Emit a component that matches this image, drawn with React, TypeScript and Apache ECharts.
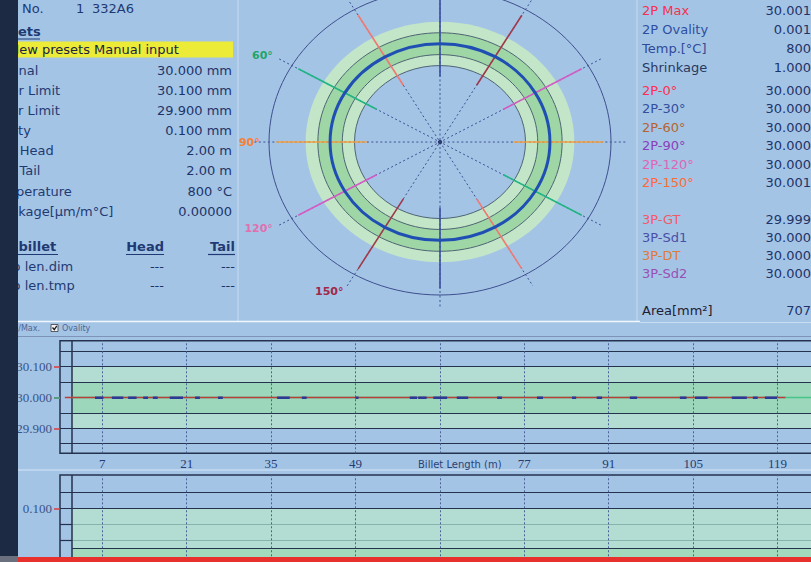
import React, { useEffect, useRef } from 'react';
import * as echarts from 'echarts';

const W = 811;
const H = 562;

// ---------------- data ----------------
const billetNoLabel = 'Billet No.';
const billetIndex = '1';
const billetCode = '332A6';
const presetTitle = 'Presets';
const presetMode = 'New presets Manual input';
const presetNames = ['Nominal', 'Upper Limit', 'Lower Limit', 'Ovality', 'Crop Head', 'Crop Tail', 'Temperature', 'Shrinkage[µm/m°C]'];
const presetValues = ['30.000 mm', '30.100 mm', '29.900 mm', '0.100 mm', '2.00 m', '2.00 m', '800 °C', '0.00000'];
const cropTitle = 'Last billet';
const cropCols = ['Head', 'Tail'];
const cropNames = ['Crop len.dim', 'Crop len.tmp'];
const cropHead = ['---', '---'];
const cropTail = ['---', '---'];

const summaryNames = ['2P Max', '2P Ovality', 'Temp.[°C]', 'Shrinkage'];
const summaryValues = ['30.001', '0.001', '800', '1.000'];
const names2P = ['2P-0°', '2P-30°', '2P-60°', '2P-90°', '2P-120°', '2P-150°'];
const diameters2P = [30.0, 30.0, 30.0, 30.0, 30.0, 30.001];
const names3P = ['3P-GT', '3P-Sd1', '3P-DT', '3P-Sd2'];
const diameters3P = [29.999, 30.0, 30.0, 30.0];
const areaLabel = 'Area[mm²]';
const areaValue = 707;

const nominalDia = 30.0;
const upperLimit = 30.1;
const lowerLimit = 29.9;
const innerUpper = 30.05;
const innerLower = 29.95;
const ovalityLimit = 0.1;
const ovalityInner = 0.05;
const cropHeadM = 2.0;

const anglesDeg = [0, 30, 60, 90, 120, 150];
const angleNames = ['0°', '30°', '60°', '90°', '120°', '150°'];
const polarOrigin = 29.55;
const polarOuter = 30.25;
const radialEnd = 30.31;
const segmentFrom = 29.85;
const segmentTo = 30.22;
const ringLevels = [polarOuter, upperLimit, innerUpper, innerLower, lowerLimit];

const lengthMax = 126;
const lengthGridMarks = [7, 21, 35, 49, 63, 77, 91, 105, 119];
const lengthTickLabels = [7, 21, 35, 49, 77, 91, 105, 119];
const lengthAxisName = 'Billet Length (m)';
const diaGridLines = [30.15, 30.1, 30.05, 29.95, 29.9, 29.85];
const diaTickLabels = [29.9, 30.0, 30.1];
const ovalityGridDark = [0.12, 0.1];
const ovalityGridLight = [0.08, 0.06];
const ovalityTickLabels = [0.1];

const measuredPos = [0.8, 10, 20, 30, 40, 50, 60, 70, 80, 90, 100, 110, 120.3];
const measuredMax = [30.0, 30.0, 30.0, 30.0, 30.0, 30.0, 30.0, 30.0, 30.0, 30.0, 30.0, 30.0, 30.0];
const measuredOvality = [0.001, 0.001, 0.001, 0.001, 0.001, 0.001, 0.001, 0.001, 0.001, 0.001, 0.001, 0.001, 0.001];
const dipStart = [5.8, 8.6, 11.3, 13.8, 15.4, 18.2, 22.4, 26.2, 36.0, 40.1, 49.0, 58.0, 59.4, 61.9, 65.8, 72.5, 79.1, 84.9, 89.0, 94.5, 102.8, 105.3, 111.4, 114.9, 116.9];
const dipEnd = [7.2, 10.5, 12.7, 14.6, 16.2, 20.4, 23.2, 27.0, 38.1, 40.9, 49.5, 59.2, 60.8, 64.2, 67.7, 73.3, 80.1, 85.6, 89.9, 95.7, 103.9, 107.4, 113.9, 115.7, 118.9];
const dipValue = 29.999;

// ---------------- styles / layout ----------------
const BG = '#a4c4e6';
const NAVY = '#1f3a72';
const VAL = '#1e3468';
const SANS = '"DejaVu Sans", Verdana, sans-serif';
const SERIF = '"Liberation Serif", "DejaVu Serif", serif';
const FRAME = '#25324d';
const summaryColors = ['#f2334f', '#2e4fa0', '#2e4a98', '#28385e'];
const colors2P = ['#ff2f4f', '#33509e', '#b5642f', '#8a3fb8', '#e065b5', '#ff6a3a'];
const colors3P = ['#f25a6a', '#4a4fa6', '#e07a38', '#9a4fb5'];
const segColors = ['#3a4fa0', '#f07a72', '#1fb584', '#f5a040', '#d35cc4', '#a03a4a'];
const angleLabelColors = ['#3a4fa0', '#f07a72', '#1fa56a', '#f5803a', '#e070b0', '#a0284a'];
const angleLabelRadius = [0.79, 0.79, 0.79, 0.738, 0.79, 0.79];
const ringFill = ['none', '#c3e5c8', '#9fd6a6', '#c3e5c8', BG];
const ringStroke = ['#3e4f8e', 'none', '#4e6474', '#4e6474', '#4e6474'];
const presetNameX = [-15.5, -15.5, -15.5, -15, -14.8, -15, -10.5, -15.5];
const presetRowY = [70, 90, 110, 130, 150.5, 170.7, 191, 211];
const summaryRowY = [10, 29, 48, 67];
const rowY2P = [90, 108.5, 127, 145.7, 164.2, 182.7];
const rowY3P = [219.3, 237.3, 255.3, 273.3];

function txt(x: number, y: number, text: string, o: any = {}) {
  return {
    type: 'text',
    x,
    y,
    z: o.z ?? 5,
    silent: true,
    style: {
      text,
      fill: o.fill ?? NAVY,
      fontSize: o.size ?? 13,
      fontFamily: o.family ?? SANS,
      fontWeight: o.weight ?? 'normal',
      textAlign: o.align ?? 'left',
      textVerticalAlign: 'middle',
    },
  };
}
function hline(x1: number, x2: number, y: number, stroke: string, w = 1, z = 4) {
  return { type: 'line', z, silent: true, shape: { x1, y1: y, x2, y2: y }, style: { stroke, lineWidth: w } };
}
function vline(x: number, y1: number, y2: number, stroke: string, w = 1, z = 4) {
  return { type: 'line', z, silent: true, shape: { x1: x, y1, x2: x, y2 }, style: { stroke, lineWidth: w } };
}

function buildGraphics() {
  const g: any[] = [];
  g.push({ type: 'rect', z: 100, silent: true, shape: { x: 0, y: 0, width: 18, height: 556 }, style: { fill: '#1c2b43' } });
  g.push({ type: 'rect', z: 100, silent: true, shape: { x: 0, y: 556, width: 18, height: 6 }, style: { fill: '#6a707e' } });
  g.push({ type: 'rect', z: 100, silent: true, shape: { x: 18, y: 557, width: 793, height: 5 }, style: { fill: '#e8302c' } });
  g.push({ type: 'rect', z: 1, silent: true, shape: { x: 18, y: 41.5, width: 215, height: 16 }, style: { fill: '#ecec38' } });
  g.push(vline(238, 0, 321, '#c8dcf2', 1));
  g.push(vline(637, 0, 322, '#c8dcf2', 1));
  g.push(hline(18, 640, 321.5, '#f0f6fc', 1.5));
  g.push(hline(640, 811, 322.5, '#c8dcf2', 1));
  g.push(hline(18, 811, 336.5, '#7d94b8', 1));
  g.push(hline(18, 811, 470, '#d5e5f5', 1));

  // left panel
  g.push(txt(-15, 8, billetNoLabel));
  g.push(txt(76, 8, billetIndex));
  g.push(txt(92, 8, billetCode));
  g.push(txt(-14.5, 31, presetTitle, { weight: 'bold' }));
  g.push(hline(-14.5, 40, 39, NAVY, 1.2, 5));
  g.push(txt(9.5, 49.5, presetMode, { fill: '#1a2440' }));
  presetNames.forEach((n, i) => {
    g.push(txt(presetNameX[i], presetRowY[i], n));
    g.push(txt(232, presetRowY[i], presetValues[i], { fill: VAL, align: 'right' }));
  });
  g.push(txt(-17, 246.5, cropTitle, { weight: 'bold' }));
  g.push(hline(-17, 58, 254.5, NAVY, 1.2, 5));
  g.push(txt(164, 246.5, cropCols[0], { weight: 'bold', align: 'right' }));
  g.push(hline(126, 164, 254.5, NAVY, 1.2, 5));
  g.push(txt(235, 246.5, cropCols[1], { weight: 'bold', align: 'right' }));
  g.push(hline(208, 235, 254.5, NAVY, 1.2, 5));
  cropNames.forEach((n, i) => {
    const y = 266 + i * 19.3;
    g.push(txt(-9.8, y, n));
    g.push(txt(164, y, cropHead[i], { fill: VAL, align: 'right' }));
    g.push(txt(235, y, cropTail[i], { fill: VAL, align: 'right' }));
  });

  // right panel
  summaryNames.forEach((n, i) => {
    g.push(txt(642, summaryRowY[i], n, { fill: summaryColors[i] }));
    g.push(txt(811, summaryRowY[i], summaryValues[i], { fill: VAL, align: 'right' }));
  });
  names2P.forEach((n, i) => {
    g.push(txt(642, rowY2P[i], n, { fill: colors2P[i] }));
    g.push(txt(811, rowY2P[i], diameters2P[i].toFixed(3), { fill: VAL, align: 'right' }));
  });
  names3P.forEach((n, i) => {
    g.push(txt(642, rowY3P[i], n, { fill: colors3P[i] }));
    g.push(txt(811, rowY3P[i], diameters3P[i].toFixed(3), { fill: VAL, align: 'right' }));
  });
  g.push(txt(642, 310.7, areaLabel, { fill: '#1e2030' }));
  g.push(txt(811, 310.7, String(areaValue), { fill: VAL, align: 'right' }));

  // toolbar
  g.push(txt(40, 328.5, 'Min./Max.', { size: 8, fill: '#4f6592', align: 'right' }));
  g.push({ type: 'rect', z: 5, silent: true, shape: { x: 51, y: 324.5, width: 7, height: 7 }, style: { fill: '#f4f4f4', stroke: '#3a3a3a', lineWidth: 0.8 } });
  g.push({ type: 'polyline', z: 6, silent: true, shape: { points: [[52.5, 327.5], [54.3, 329.6], [56.8, 325.8]] }, style: { stroke: '#1a1a1a', lineWidth: 1.3, fill: 'none' } });
  g.push(txt(62, 328.5, 'Ovality', { size: 8, fill: '#4f6592' }));

  g.push(txt(418, 464, lengthAxisName, { size: 10, fill: '#2a4374' }));
  return g;
}

function polarRings() {
  return {
    type: 'custom',
    xAxisIndex: 0,
    yAxisIndex: 0,
    z: 2,
    silent: true,
    encode: { x: 0, y: 1 },
    data: ringLevels.map((v) => [0, 0, v]),
    renderItem: (params: any, api: any) => {
      const i = params.dataIndex;
      const v = api.value(2);
      const c = api.coord([0, 0]);
      const s = api.size([v - polarOrigin, v - polarOrigin]);
      return {
        type: 'ellipse',
        shape: { cx: c[0], cy: c[1], rx: s[0], ry: s[1] },
        style: { fill: ringFill[i], stroke: ringStroke[i], lineWidth: 1 },
      };
    },
  };
}

function polarRadials() {
  return {
    type: 'custom',
    xAxisIndex: 0,
    yAxisIndex: 0,
    z: 3,
    silent: true,
    encode: { x: 0, y: 1 },
    data: anglesDeg.map((a) => [0, 0, a]),
    renderItem: (params: any, api: any) => {
      const i = params.dataIndex;
      const a = (api.value(2) * Math.PI) / 180;
      const ux = -Math.sin(a);
      const uy = Math.cos(a);
      const P = (v: number, s: number) => {
        const r = v - polarOrigin;
        return api.coord([s * ux * r, s * uy * r]);
      };
      const e1 = P(radialEnd, 1);
      const e2 = P(radialEnd, -1);
      const a0 = P(segmentFrom, 1);
      const a1 = P(segmentTo, 1);
      const b0 = P(segmentFrom, -1);
      const b1 = P(segmentTo, -1);
      const lp = P(polarOrigin + angleLabelRadius[i], 1);
      const children: any[] = [
        { type: 'line', shape: { x1: e1[0], y1: e1[1], x2: e2[0], y2: e2[1] }, style: { stroke: '#3c5294', lineWidth: 1, lineDash: [2, 2.5] } },
        { type: 'line', shape: { x1: a0[0], y1: a0[1], x2: a1[0], y2: a1[1] }, style: { stroke: segColors[i], lineWidth: 1.6 } },
        { type: 'line', shape: { x1: b0[0], y1: b0[1], x2: b1[0], y2: b1[1] }, style: { stroke: segColors[i], lineWidth: 1.6 } },
      ];
      if (lp[1] > 6) {
        children.push({
          type: 'text',
          x: lp[0],
          y: lp[1],
          style: { text: angleNames[i], fill: angleLabelColors[i], fontSize: 11, fontWeight: 'bold', fontFamily: SANS, textAlign: 'right', textVerticalAlign: 'middle' },
        });
      }
      return { type: 'group', children };
    },
  };
}

function polarProfile() {
  return {
    type: 'custom',
    xAxisIndex: 0,
    yAxisIndex: 0,
    z: 4,
    silent: true,
    encode: { x: 0, y: 1 },
    data: [[0, 0]],
    renderItem: (params: any, api: any) => {
      const pts: number[][] = [];
      for (let k = 0; k < 12; k++) {
        const a = (k * 30 * Math.PI) / 180;
        const r = diameters2P[k % diameters2P.length] - polarOrigin;
        pts.push(api.coord([-Math.sin(a) * r, Math.cos(a) * r]));
      }
      const c = api.coord([0, 0]);
      return {
        type: 'group',
        children: [
          { type: 'polygon', shape: { points: pts, smooth: 0.35 }, style: { fill: 'none', stroke: '#1f4fb3', lineWidth: 3 } },
          { type: 'circle', shape: { cx: c[0], cy: c[1], r: 2.2 }, style: { fill: '#2b3c70' } },
        ],
      };
    },
  };
}

function buildOption() {
  const dipData: any[] = [];
  dipStart.forEach((s, i) => {
    dipData.push([s, dipValue], [dipEnd[i], dipValue], [dipEnd[i], '-']);
  });
  const verticalDotted = lengthGridMarks.map((x) => ({ xAxis: x, lineStyle: { type: [2, 2], color: '#4b6296', width: 1 } }));
  const cropLine = { xAxis: cropHeadM, lineStyle: { color: FRAME, width: 1.5, type: 'solid' } };

  return {
    animation: false,
    backgroundColor: BG,
    tooltip: { show: false },
    graphic: { elements: buildGraphics() },
    grid: [
      { left: 269, top: 0, width: 342, height: 295, show: false, containLabel: false, outerBoundsMode: 'none' },
      { left: 60, top: 340.7, width: lengthMax * 6.03, height: 112.6, show: true, backgroundColor: 'transparent', borderColor: FRAME, borderWidth: 1.5, containLabel: false, outerBoundsMode: 'none' },
      { left: 60, top: 475, width: lengthMax * 6.03, height: 113.3, show: true, backgroundColor: 'transparent', borderColor: FRAME, borderWidth: 1.5, containLabel: false, outerBoundsMode: 'none' },
    ],
    xAxis: [
      { gridIndex: 0, type: 'value', min: -0.7, max: 0.7, show: false },
      {
        gridIndex: 1,
        type: 'value',
        min: 0,
        max: lengthMax,
        axisLine: { show: false },
        axisTick: { show: false },
        splitLine: { show: false },
        axisLabel: { customValues: lengthTickLabels, color: '#263c72', fontFamily: SERIF, fontSize: 13, margin: 4 },
      },
      { gridIndex: 2, type: 'value', min: 0, max: lengthMax, show: false },
    ],
    yAxis: [
      { gridIndex: 0, type: 'value', min: -0.7, max: 0.65, show: false },
      {
        gridIndex: 1,
        type: 'value',
        position: 'left',
        min: 29.819,
        max: 30.184,
        axisLine: { show: false },
        splitLine: { show: false },
        axisTick: { show: true, customValues: diaTickLabels, length: 6, lineStyle: { color: '#e03a3a', width: 1.5 } },
        axisLabel: { customValues: diaTickLabels, formatter: (v: number) => v.toFixed(3), color: '#3a5384', fontFamily: SERIF, fontSize: 13, margin: 8 },
      },
      {
        gridIndex: 1,
        type: 'value',
        position: 'left',
        offset: 0,
        min: 29.819,
        max: 30.184,
        axisLine: { show: false },
        splitLine: { show: false },
        axisLabel: { show: false },
        axisTick: { show: true, customValues: [nominalDia], length: 6, lineStyle: { color: '#2fb08a', width: 1.5 } },
      },
      {
        gridIndex: 2,
        type: 'value',
        position: 'left',
        min: 0,
        max: 0.1417,
        axisLine: { show: false },
        splitLine: { show: false },
        axisTick: { show: true, customValues: ovalityTickLabels, length: 6, lineStyle: { color: '#e03a3a', width: 1.5 } },
        axisLabel: { customValues: ovalityTickLabels, formatter: (v: number) => v.toFixed(3), color: '#3a5384', fontFamily: SERIF, fontSize: 13, margin: 8 },
      },
    ],
    series: [
      polarRings(),
      polarRadials(),
      polarProfile(),
      {
        type: 'line',
        xAxisIndex: 1,
        yAxisIndex: 1,
        data: [],
        silent: true,
        markArea: {
          silent: true,
          data: [
            [{ xAxis: cropHeadM, yAxis: lowerLimit, itemStyle: { color: '#b3ddd3' } }, { xAxis: lengthMax, yAxis: upperLimit }],
            [{ xAxis: cropHeadM, yAxis: innerLower, itemStyle: { color: '#9dd7bb' } }, { xAxis: lengthMax, yAxis: innerUpper }],
          ],
        },
        markLine: {
          silent: true,
          symbol: ['none', 'none'],
          label: { show: false },
          lineStyle: { color: FRAME, width: 1.2, type: 'solid' },
          data: [...diaGridLines.map((v) => ({ yAxis: v })), cropLine, ...verticalDotted],
        },
      },
      {
        name: 'Nominal',
        type: 'line',
        xAxisIndex: 1,
        yAxisIndex: 1,
        z: 10,
        silent: true,
        symbol: 'none',
        lineStyle: { color: '#46c48a', width: 1.5 },
        data: [[cropHeadM, nominalDia], [lengthMax, nominalDia]],
      },
      {
        name: '2P Max',
        type: 'line',
        xAxisIndex: 1,
        yAxisIndex: 1,
        z: 11,
        silent: true,
        symbol: 'none',
        lineStyle: { color: '#b8403a', width: 1.5 },
        data: measuredPos.map((x, i) => [x, measuredMax[i]]),
      },
      {
        name: '2P Min',
        type: 'line',
        xAxisIndex: 1,
        yAxisIndex: 1,
        z: 12,
        silent: true,
        symbol: 'none',
        connectNulls: false,
        lineStyle: { color: '#2b3a96', width: 2.6 },
        data: dipData,
      },
      {
        type: 'line',
        xAxisIndex: 2,
        yAxisIndex: 3,
        data: [],
        silent: true,
        markArea: {
          silent: true,
          data: [
            [{ xAxis: cropHeadM, yAxis: 0, itemStyle: { color: '#b3ddd3' } }, { xAxis: lengthMax, yAxis: ovalityLimit }],
            [{ xAxis: cropHeadM, yAxis: 0, itemStyle: { color: '#a3d9bd' } }, { xAxis: lengthMax, yAxis: ovalityInner }],
          ],
        },
        markLine: {
          silent: true,
          symbol: ['none', 'none'],
          label: { show: false },
          lineStyle: { color: FRAME, width: 1.2, type: 'solid' },
          data: [
            ...ovalityGridDark.map((v) => ({ yAxis: v })),
            ...ovalityGridLight.map((v) => [{ coord: [0, v] }, { coord: [cropHeadM, v] }]),
            ...ovalityGridLight.map((v) => [{ coord: [cropHeadM, v], lineStyle: { color: '#86b4ac', width: 1 } }, { coord: [lengthMax, v] }]),
            [{ coord: [cropHeadM, ovalityInner] }, { coord: [lengthMax, ovalityInner] }],
            cropLine,
            ...verticalDotted,
          ],
        },
      },
      {
        name: 'Ovality',
        type: 'line',
        xAxisIndex: 2,
        yAxisIndex: 3,
        z: 11,
        silent: true,
        symbol: 'none',
        lineStyle: { color: '#b8403a', width: 1.5 },
        data: measuredPos.map((x, i) => [x, measuredOvality[i]]),
      },
    ],
  };
}

export default function App() {
  const ref = useRef<HTMLDivElement>(null);
  useEffect(() => {
    document.body.style.margin = '0';
    const chart = echarts.init(ref.current as HTMLDivElement, null, { renderer: 'svg', width: W, height: H });
    chart.setOption(buildOption() as any);
    return () => chart.dispose();
  }, []);
  return <div ref={ref} style={{ position: 'absolute', left: 0, top: 0, width: W, height: H, overflow: 'hidden' }} />;
}
